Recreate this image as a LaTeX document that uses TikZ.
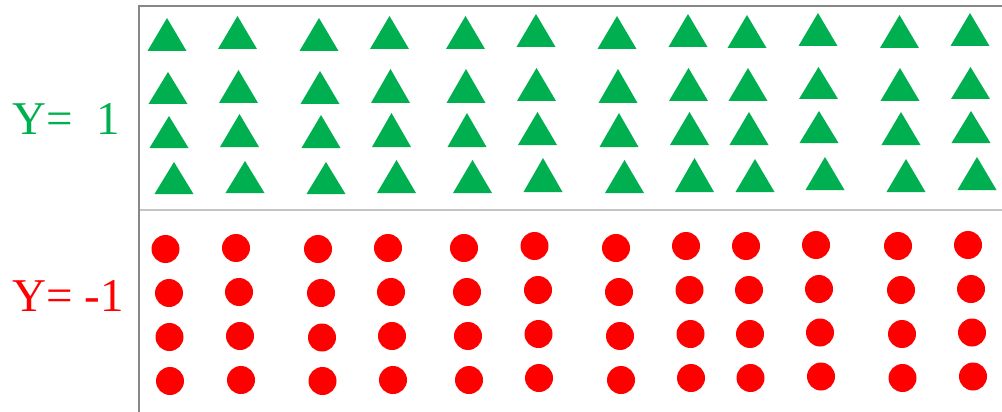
\documentclass[tikz,border=0pt]{standalone}
\usepackage{fontspec}
\setmainfont{Liberation Serif}
\definecolor{tgreen}{HTML}{00B050}
\definecolor{cred}{HTML}{FF0000}
\definecolor{axisgray}{HTML}{878787}
\definecolor{divgray}{HTML}{C4C4C4}
\tikzset{
  tri/.style={fill=tgreen, draw=none},
  dot/.style={fill=cred, draw=none},
  lab/.style={anchor=base west, inner sep=0pt, font=\fontsize{47}{47}\selectfont},
}
\begin{document}
\begin{tikzpicture}[x=1pt,y=-1pt]
\useasboundingbox (0,0) rectangle (1002,412);
\fill[white] (0,0) rectangle (1002,412);
% frame
\draw[axisgray, line width=2.7pt] (138.9,4.7) -- (138.9,412);
\draw[axisgray, line width=2pt] (137.6,6) -- (1002,6);
\draw[divgray, line width=1.5pt] (140.2,210.2) -- (1002,210.2);
% labels
\node[lab, text=tgreen] (ypos) at (12,135) {Y=\ \ 1};
\node[lab, text=cred] (yneg) at (12,311) {Y= -1};
% triangles: centre x / apex y / base y
\foreach \cx/\ay/\by in {
 167/18/51, 168/72/104, 169/116/148, 174/162/194,
 237.5/16/49, 238.5/70/103, 239.5/114/147, 245/161/193,
 319/18/51, 320/71/104, 321/115/148, 326/162/194,
 389.5/16/49, 390.5/69/103, 391.5/113/147, 396.5/160/193,
 465.5/16/49, 466/69/103, 467/113/147, 472.5/160/193,
 536/14/47, 536.5/68/101, 537.5/112/145, 543/158/192,
 617/16/49, 618/69/103, 619/113/147, 624.5/160/193,
 688/14/47, 688.5/68/101, 689.5/112/145, 694.5/158/192,
 747/15/48, 748/68/101, 749/112/145, 755/159/192,
 818/13/46, 818.5/67/99, 819/111/143, 825/157/190,
 899.5/15/48, 900/68/101, 901/112/145, 906/159/192,
 970/13/46, 970.5/67/99, 971/111/143, 977/157/190}
 {\fill[tri] (\cx-19.5,\by) -- (\cx,\ay) -- (\cx+19.5,\by) -- cycle;}
% circles
\foreach \cx/\cy in {
 165.5/249, 169/293, 169.5/337, 170/381,
 236/248, 239/292, 240/336, 241/380,
 318/249, 321/293, 322/337.5, 322.5/381,
 388/248, 391/292, 392/336, 393/380,
 464/248, 467/292, 468/336, 469/380,
 534.5/246, 538/290, 538.5/334, 539/378,
 616/248, 619/292, 620/336, 621/380,
 686/246, 689.5/290, 690.5/334, 691/378,
 746/246, 749/290, 750/334, 750.5/378,
 816/245, 819/289, 820/332.5, 821/376.5,
 898/246, 901/290, 902/334, 902.5/378,
 968/245, 971/289, 972/332.5, 973/376.5}
 {\fill[dot] (\cx,\cy) circle[radius=14];}
\end{tikzpicture}
\end{document}
